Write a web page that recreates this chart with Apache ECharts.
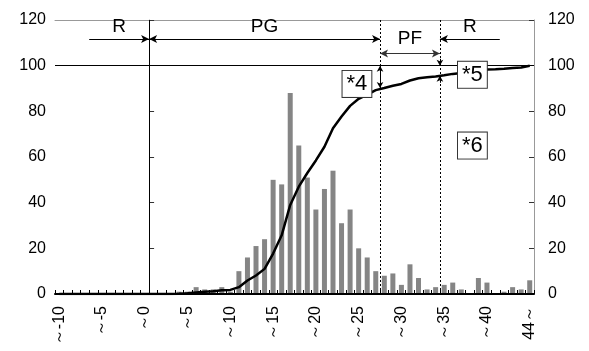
<!DOCTYPE html>
<html><head><meta charset="utf-8">
<script src="https://cdn.jsdelivr.net/npm/echarts@6/dist/echarts.min.js"></script>
<style>html,body{margin:0;padding:0;background:#fff}#c{width:589px;height:351px}</style>
</head><body><div id="c"></div>
<script>
const categories = ["～-10","～-9","～-8","～-7","～-6","～-5","～-4","～-3","～-2","～-1","～0",
  "～1","～2","～3","～4","～5","～6","～7","～8","～9","～10",
  "～11","～12","～13","～14","～15","～16","～17","～18","～19","～20",
  "～21","～22","～23","～24","～25","～26","～27","～28","～29","～30",
  "～31","～32","～33","～34","～35","～36","～37","～38","～39","～40",
  "～41","～42","～43","～44","44～"];
const counts = [0,0,0,0,0,0,0,0,0,0,0,
  0,0,0,1,1,3,2,2,3,1,
  10,16,21,24,50,48,88,65,51,37,
  46,54,31,37,20,16,10,8,9,4,
  13,7,2,3,4,5,2,0,7,5,
  0,1,3,2,6];
const cumulative = [0,0,0,0,0,0,0,0,0,0,0,
  0,0,0,0.1,0.3,0.7,1.0,1.2,1.6,1.8,
  3.0,5.9,8.1,11.0,17.7,25.7,39.0,47.0,53.0,58.5,
  64.5,72.6,77.7,82.4,85.5,87.3,89.3,90.2,91.2,92.0,
  93.5,94.5,94.9,95.3,95.8,96.4,96.8,97.0,97.8,98.3,
  98.4,98.6,99.0,99.2,100];
const yTicks = [0,20,40,60,80,100,120];
// annotation positions (in value units of boundaries: 0 = boundary after "～0")
const zoneBounds = { r1Start: -7, pgStart: 0, pfStart: 27, pfEnd: 34, r2End: 41 };
const notes = [
  { text: "*4", x: 24.3, y: 92 },
  { text: "*5", x: 37.8, y: 96 },
  { text: "*6", x: 37.8, y: 65 }
];

const FONT = "Liberation Sans, Arial, sans-serif";
const chart = echarts.init(document.getElementById('c'), null, {renderer:'canvas'});
const ARROW_Y = 111.7, PF_Y = 105.3;
function seg(x1,y1,x2,y2,opts){
  opts = opts || {};
  return [
    { coord:[x1,y1], symbol: opts.s1 || 'none', symbolSize: opts.ss || [6,8],
      lineStyle: Object.assign({color:'#000', width:1, type:'solid'}, opts.ls||{}),
      label: opts.label ? {show:true, position:'middle', formatter: opts.label, fontSize:19, color:'#000', fontFamily:FONT, distance:3} : {show:false} },
    { coord:[x2,y2], symbol: opts.s2 || 'none', symbolSize: opts.ss || [6,8] }
  ];
}
const b = zoneBounds;
const markLines = [
  seg(-11,100,45,100),
  seg(b.pgStart,0,b.pgStart,120),
  seg(b.pfStart,0,b.pfStart,120,{ls:{type:[2,2]}}),
  seg(b.pfEnd,0,b.pfEnd,120,{ls:{type:[2,2]}}),
  seg(b.r1Start,ARROW_Y,b.pgStart,ARROW_Y,{s2:'arrow',label:'R'}),
  seg(b.pgStart,ARROW_Y,b.pfStart,ARROW_Y,{s1:'arrow',s2:'arrow',label:'PG'}),
  seg(b.pfStart,PF_Y,b.pfEnd,PF_Y,{s1:'arrow',s2:'arrow',ls:{color:'#333'}}),
  seg(b.pfEnd,ARROW_Y,b.r2End,ARROW_Y,{s1:'arrow',label:'R'}),
  seg(b.pfStart,100,b.pfStart,90.2,{s1:'arrow',s2:'arrow',ss:[5,6]}),
  seg(b.pfEnd,103,b.pfEnd,100,{s2:'arrow',ss:[5,6]}),
  seg(b.pfEnd,92.5,b.pfEnd,95.6,{s2:'arrow',ss:[5,6]})
];
// PF text
const pfLabel = { coord:[(b.pfStart+b.pfEnd)/2, 112], value:'PF' };

const option = {
  animation:false,
  backgroundColor:'#fff',
  grid:{left:55,right:55,top:20,bottom:57,containLabel:false},
  xAxis:[
    { type:'category', data:categories, boundaryGap:true,
      axisLine:{show:true, lineStyle:{color:'#000', width:2}},
      axisTick:{show:true, inside:true, length:4, interval:0, lineStyle:{color:'#000'}},
      axisLabel:{rotate:90, margin:12, fontSize:16, color:'#000', fontFamily:FONT,
        interval:function(i){return i%5===0 || i===categories.length-1;}},
      splitLine:{show:false}, z:3 },
    { type:'value', position:'top', min:-11, max:45,
      axisLine:{show:true, onZero:false, lineStyle:{color:'#999', width:1}},
      axisTick:{show:false}, axisLabel:{show:false}, splitLine:{show:false} }
  ],
  yAxis:[
    { type:'value', min:0, max:120, interval:20, position:'left',
      axisLine:{show:true, lineStyle:{color:'#999'}},
      axisTick:{show:true, inside:true, length:5, lineStyle:{color:'#333'}},
      axisLabel:{fontSize:16, color:'#000', fontFamily:FONT, margin:9},
      splitLine:{show:false} },
    { type:'value', min:0, max:120, interval:20, position:'right',
      axisLine:{show:true, lineStyle:{color:'#999'}},
      axisTick:{show:true, inside:true, length:5, lineStyle:{color:'#333'}},
      axisLabel:{fontSize:16, color:'#000', fontFamily:FONT, margin:14},
      splitLine:{show:false} }
  ],
  series:[
    { type:'bar', xAxisIndex:0, yAxisIndex:0, data:counts, barWidth:5,
      itemStyle:{color:'#858585'}, z:2 },
    { type:'line', xAxisIndex:0, yAxisIndex:1, data:cumulative, showSymbol:false, symbol:'none',
      lineStyle:{color:'#000', width:2.5}, z:4 },
    { type:'scatter', xAxisIndex:1, yAxisIndex:0, data:[], z:5, silent:true,
      markLine:{silent:true, animation:false, symbol:['none','none'], data:markLines},
      markPoint:{silent:true, animation:false, symbol:'rect', symbolSize:0,
        data:[
          { coord:pfLabel.coord, value:pfLabel.value,
            label:{show:true, position:'inside', formatter:pfLabel.value, fontSize:19, color:'#000', fontFamily:FONT} }
        ].concat(notes.map(n=>({ coord:[n.x,n.y], value:n.text,
            label:{show:true, position:'inside', formatter:n.text, fontSize:22, color:'#000', fontFamily:FONT,
              backgroundColor:'#fff', borderColor:'#333', borderWidth:1, padding:[3,4,1,4]} })))
      }
    }
  ]
};
chart.setOption(option);
</script>
</body></html>
